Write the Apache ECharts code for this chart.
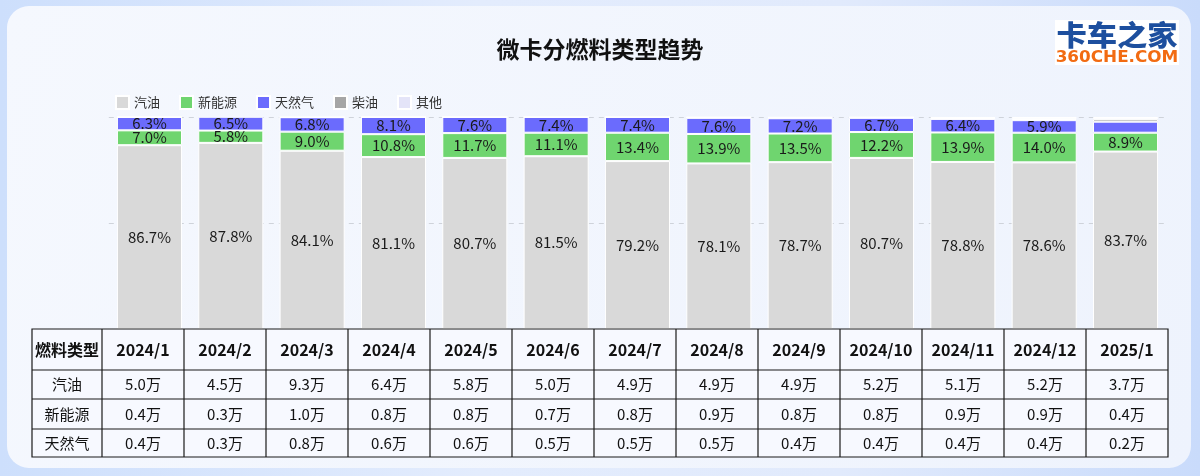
<!DOCTYPE html>
<html>
<head>
<meta charset="utf-8">
<script src="https://cdn.jsdelivr.net/npm/echarts@6/dist/echarts.min.js"></script>
<style>
html,body{margin:0;padding:0;}
body{width:1200px;height:476px;background:linear-gradient(90deg,#cddffc 0%,#e3ecfd 40%,#e1eafc 70%,#c9dbfb 100%);}
#chart{width:1200px;height:476px;}
</style>
</head>
<body>
<div id="chart"></div>
<script>
// ---- data ----
var categories = ['2024/1','2024/2','2024/3','2024/4','2024/5','2024/6','2024/7','2024/8','2024/9','2024/10','2024/11','2024/12','2025/1'];
var seriesNames = ['汽油','新能源','天然气','柴油','其他'];
var gasolineShare = [86.7,87.8,84.1,81.1,80.7,81.5,79.2,78.1,78.7,80.7,78.8,78.6,83.7];
var nevShare      = [7.0,5.8,9.0,10.8,11.7,11.1,13.4,13.9,13.5,12.2,13.9,14.0,8.9];
var cngShare      = [6.3,6.5,6.8,8.1,7.6,7.4,7.4,7.6,7.2,6.7,6.4,5.9,5.2];
var dieselShare   = [0,0,0,0,0,0,0,0.2,0.3,0.2,0.4,0.6,1.2];
var otherShare    = [0,0,0,0,0,0,0,0.2,0.3,0.2,0.5,0.9,1.0];
var tableHeader = '燃料类型';
var tableRowNames = ['汽油','新能源','天然气'];
var gasolineVolume = [5.0,4.5,9.3,6.4,5.8,5.0,4.9,4.9,4.9,5.2,5.1,5.2,3.7];
var nevVolume      = [0.4,0.3,1.0,0.8,0.8,0.7,0.8,0.9,0.8,0.8,0.9,0.9,0.4];
var cngVolume      = [0.4,0.3,0.8,0.6,0.6,0.5,0.5,0.5,0.4,0.4,0.4,0.4,0.2];
var title = '微卡分燃料类型趋势';

// ---- styles ----
var colors = ['#d9d9d9','#6fd56f','#6b6bfd','#a6a6a6','#e4e4f8'];
var FONT = '"Noto Sans CJK SC","Noto Sans",sans-serif';

var chart = echarts.init(document.getElementById('chart'));

function barSeries(name, data, color, showLabel, hideIdx) {
  return {
    name: name, type: 'bar', stack: 'all', barCategoryGap: '20%',
    itemStyle: { color: color, borderColor: '#ffffff', borderWidth: 1 },
    label: {
      show: showLabel, position: 'inside', color: '#1a1a1a', fontSize: 15, fontFamily: FONT,
      formatter: function (p) { return p.value.toFixed(1) + '%'; }
    },
    data: data.map(function (v, i) {
      if (hideIdx && hideIdx.indexOf(i) >= 0) return { value: v, label: { show: false } };
      return v;
    })
  };
}

// ---- table graphic ----
var tblLeft = 32, tblRight = 1168, firstColW = 70;
var colW = (tblRight - tblLeft - firstColW) / categories.length;
var rowYs = [329, 370, 399, 429, 457];
var tableRowsData = [gasolineVolume, nevVolume, cngVolume];
var g = [];
// card
g.push({ type: 'rect', z: -10, silent: true, shape: { x: 7, y: 6, width: 1184, height: 462, r: 22 },
  style: { fill: new echarts.graphic.LinearGradient(0, 0, 1, 1, [{ offset: 0, color: '#f5f8fe' }, { offset: 1, color: '#eef3fd' }]) } });
// logo
g.push({ type: 'rect', z: 5, shape: { x: 1055, y: 20, width: 124, height: 45 }, style: { fill: '#ffffff' } });
g.push({ type: 'text', z: 6, x: 1117, y: 35, scaleX: 1.08, originX: 0, originY: 0,
  style: { text: '卡车之家', font: '900 28px "Noto Sans CJK SC"', fill: '#1d4f9e', textAlign: 'center', textVerticalAlign: 'middle' } });
g.push({ type: 'text', z: 6, x: 1117, y: 58.5, scaleX: 1.12, originX: 0, originY: 0,
  style: { text: '360CHE.COM', font: 'bold 15px "DejaVu Sans"', fill: '#f26b12', textAlign: 'center', textVerticalAlign: 'middle' } });
// table background
g.push({ type: 'rect', z: 100, shape: { x: tblLeft, y: rowYs[0], width: tblRight - tblLeft, height: rowYs[4] - rowYs[0] },
  style: { fill: '#f7f9ff', stroke: '#1a1a1a', lineWidth: 1.2 } });
// horizontal lines
for (var r = 1; r < rowYs.length - 1; r++) {
  g.push({ type: 'line', z: 101, shape: { x1: tblLeft, y1: rowYs[r], x2: tblRight, y2: rowYs[r] }, style: { stroke: '#1a1a1a', lineWidth: 1.2 } });
}
// vertical lines
for (var c = 0; c < categories.length; c++) {
  var vx = tblLeft + firstColW + c * colW;
  g.push({ type: 'line', z: 101, shape: { x1: vx, y1: rowYs[0], x2: vx, y2: rowYs[4] }, style: { stroke: '#1a1a1a', lineWidth: 1.2 } });
}
function cellText(txt, cx, cy, bold, size) {
  g.push({ type: 'text', z: 102, x: cx, y: cy,
    style: { text: txt, font: (bold ? 'bold ' : '') + size + 'px ' + FONT, fill: '#111', textAlign: 'center', textVerticalAlign: 'middle' } });
}
cellText(tableHeader, tblLeft + firstColW / 2, (rowYs[0] + rowYs[1]) / 2, true, 16);
categories.forEach(function (cat, i) {
  cellText(cat, tblLeft + firstColW + (i + 0.5) * colW, (rowYs[0] + rowYs[1]) / 2, true, 16);
});
tableRowNames.forEach(function (nm, r) {
  var cy = (rowYs[r + 1] + rowYs[r + 2]) / 2;
  cellText(nm, tblLeft + firstColW / 2, cy, false, 15);
  tableRowsData[r].forEach(function (v, i) {
    cellText(v.toFixed(1) + '万', tblLeft + firstColW + (i + 0.5) * colW, cy, false, 15);
  });
});

var option = {
  backgroundColor: 'transparent',
  animation: false,
  title: { text: title, left: 'center', top: 33, textStyle: { fontFamily: FONT, fontSize: 23, fontWeight: 'bold', color: '#111' } },
  legend: {
    data: seriesNames, left: 110, top: 90, itemWidth: 13, itemHeight: 13, itemGap: 19, icon: 'rect',
    textStyle: { fontFamily: FONT, fontSize: 13, color: '#333' }
  },
  grid: { left: 108.8, right: 33.8, top: 117, bottom: 147 },
  xAxis: { type: 'category', data: categories, show: false },
  yAxis: {
    type: 'value', min: 0, max: 100, interval: 50,
    axisLabel: { show: false }, axisLine: { show: false }, axisTick: { show: false },
    splitLine: { show: true, lineStyle: { type: [5, 5], color: '#cfd3da', width: 1 } }
  },
  series: [
    barSeries(seriesNames[0], gasolineShare, colors[0], true),
    barSeries(seriesNames[1], nevShare, colors[1], true),
    barSeries(seriesNames[2], cngShare, colors[2], true, [12]),
    barSeries(seriesNames[3], dieselShare, colors[3], false),
    barSeries(seriesNames[4], otherShare, colors[4], false)
  ],
  graphic: { elements: g }
};
chart.setOption(option);
</script>
</body>
</html>
